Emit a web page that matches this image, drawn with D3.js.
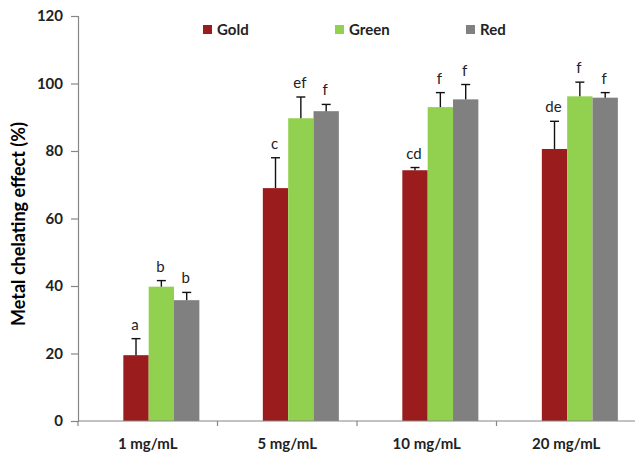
<!DOCTYPE html>
<html>
<head>
<meta charset="utf-8">
<script src="https://cdn.jsdelivr.net/npm/d3@7"></script>
<style>
  html, body { margin: 0; padding: 0; background: #fff; }
  svg { display: block; font-family: Lato, "Open Sans", "Liberation Sans", sans-serif; }
</style>
</head>
<body>
<svg id="chart" width="635" height="457"></svg>
<script>
// Concentrations tested
const categories = ["1 mg/mL", "5 mg/mL", "10 mg/mL", "20 mg/mL"];
const seriesNames = ["Gold", "Green", "Red"];
const seriesColors = ["#9b1c1c", "#92d050", "#808080"];

// Mean chelating effect (%) per extract
const goldValues  = [19.5, 69.0, 74.3, 80.6];
const greenValues = [39.8, 89.7, 93.0, 96.2];
const redValues   = [35.8, 91.8, 95.3, 95.8];

// Standard deviations (upper error bars)
const goldErrors  = [4.9, 9.0, 0.8, 8.2];
const greenErrors = [1.8, 6.3, 4.3, 4.2];
const redErrors   = [2.3, 2.0, 4.4, 1.5];

// Significance letters
const goldLetters  = ["a", "c", "cd", "de"];
const greenLetters = ["b", "ef", "f", "f"];
const redLetters   = ["b", "f", "f", "f"];

const yTicks = [0, 20, 40, 60, 80, 100, 120];

const seriesValues = [goldValues, greenValues, redValues];
const seriesErrors = [goldErrors, greenErrors, redErrors];
const seriesLetters = [goldLetters, greenLetters, redLetters];

const svg = d3.select("#chart");
const plotLeft = 78, plotRight = 636, plotTop = 16, plotBottom = 421;

const x0 = d3.scaleBand().domain(categories).range([plotLeft, plotRight]).padding(0);
const bw = x0.bandwidth();
const x1 = d3.scaleBand().domain(seriesNames)
  .range([bw * 0.325, bw * 0.325 + bw * 0.545]).padding(0);
const y = d3.scaleLinear().domain([0, 120]).range([plotBottom, plotTop]);

const axisColor = "#868686";

// Bars, error bars and letters
const rows = [];
seriesNames.forEach((s, si) => {
  categories.forEach((c, ci) => {
    rows.push({
      cat: c, series: s, color: seriesColors[si],
      value: seriesValues[si][ci], err: seriesErrors[si][ci],
      letter: seriesLetters[si][ci]
    });
  });
});

const g = svg.append("g");
g.selectAll("rect.bar").data(rows).join("rect")
  .attr("class", "bar")
  .attr("x", d => x0(d.cat) + x1(d.series))
  .attr("width", x1.bandwidth())
  .attr("y", d => y(d.value))
  .attr("height", d => y(0) - y(d.value))
  .attr("fill", d => d.color);

const cx = d => x0(d.cat) + x1(d.series) + x1.bandwidth() / 2;
g.selectAll("line.err").data(rows).join("line")
  .attr("class", "err")
  .attr("x1", cx).attr("x2", cx)
  .attr("y1", d => y(d.value)).attr("y2", d => y(d.value + d.err))
  .attr("stroke", "#111").attr("stroke-width", 1.4);
g.selectAll("line.cap").data(rows).join("line")
  .attr("class", "cap")
  .attr("x1", d => cx(d) - 4.5).attr("x2", d => cx(d) + 4.5)
  .attr("y1", d => y(d.value + d.err)).attr("y2", d => y(d.value + d.err))
  .attr("stroke", "#111").attr("stroke-width", 1.4);
g.selectAll("text.letter").data(rows).join("text")
  .attr("class", "letter")
  .attr("x", d => cx(d) - 1)
  .attr("y", d => y(d.value + d.err) - 9)
  .attr("text-anchor", "middle")
  .attr("font-size", 15)
  .attr("fill", "#222")
  .text(d => d.letter);

// Y axis
const yAxis = svg.append("g").attr("transform", `translate(${plotLeft},0)`)
  .call(d3.axisLeft(y).tickValues(yTicks).tickSize(7).tickPadding(8));
yAxis.select(".domain").attr("stroke", axisColor).attr("stroke-width", 1.2);
yAxis.selectAll(".tick line").attr("stroke", axisColor).attr("stroke-width", 1.2);
yAxis.selectAll(".tick text").attr("font-size", 15).attr("font-weight", "bold")
  .attr("fill", "#222").attr("font-family", "Lato, sans-serif");

// X axis: ticks between categories, labels centred in each band
const xAxisG = svg.append("g").attr("transform", `translate(0,${plotBottom})`);
xAxisG.append("line").attr("x1", plotLeft).attr("x2", 635).attr("y1", 0).attr("y2", 0)
  .attr("stroke", axisColor).attr("stroke-width", 1.2);
xAxisG.selectAll("line.xt").data(categories).join("line")
  .attr("class", "xt")
  .attr("x1", d => x0(d)).attr("x2", d => x0(d))
  .attr("y1", 0).attr("y2", 5)
  .attr("stroke", axisColor).attr("stroke-width", 1.2);
xAxisG.selectAll("text").data(categories).join("text")
  .attr("x", d => x0(d) + bw / 2)
  .attr("y", 28)
  .attr("text-anchor", "middle")
  .attr("font-size", 15).attr("font-weight", "bold").attr("fill", "#222")
  .text(d => d);

// Y axis title
svg.append("text")
  .attr("transform", `translate(25,${(103 + 345) / 2}) rotate(-90)`)
  .attr("text-anchor", "middle")
  .attr("font-size", 18).attr("font-weight", "bold").attr("fill", "#000")
  .text("Metal chelating effect (%)");

// Legend
const legendX = [203, 335, 466];
const legend = svg.append("g");
seriesNames.forEach((s, i) => {
  legend.append("rect").attr("x", legendX[i]).attr("y", 25)
    .attr("width", 9).attr("height", 9).attr("fill", seriesColors[i]);
  legend.append("text").attr("x", legendX[i] + 14).attr("y", 35)
    .attr("font-size", 15).attr("font-weight", "bold").attr("fill", "#222")
    .text(s);
});
</script>
</body>
</html>
